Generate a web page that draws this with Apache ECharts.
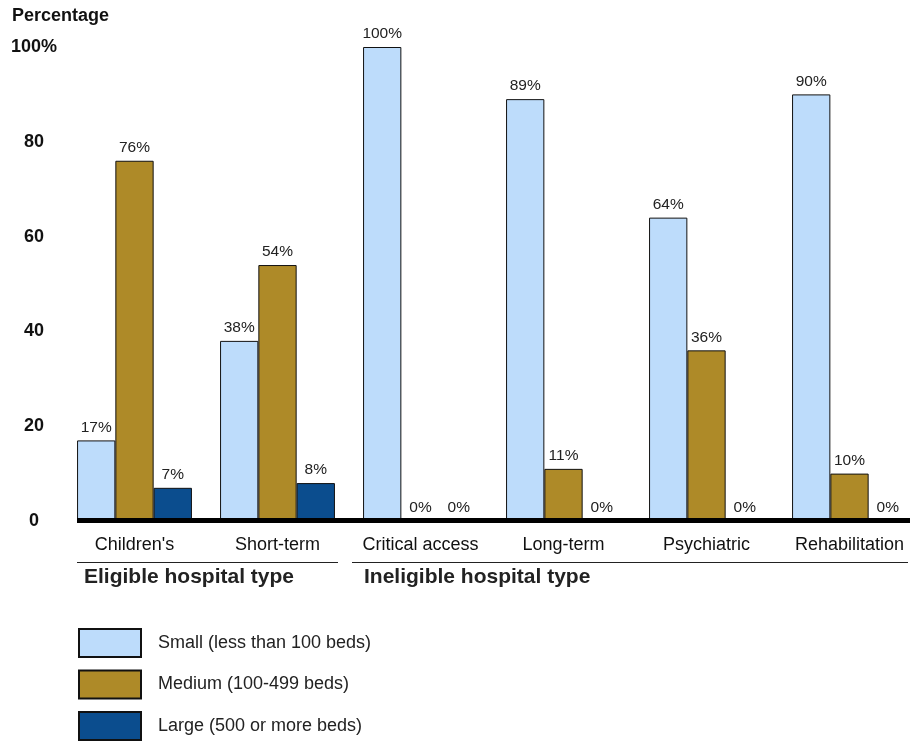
<!DOCTYPE html>
<html>
<head>
<meta charset="utf-8">
<script src="https://cdn.jsdelivr.net/npm/echarts@6/dist/echarts.min.js"></script>
<style>
  html, body { margin: 0; padding: 0; background: #fff; }
  #chart { width: 918px; height: 742px; }
</style>
</head>
<body>
<div id="chart"></div>
<script>
// Hospital types and share of hospitals by bed-size class
const categories = ["Children's", 'Short-term', 'Critical access', 'Long-term', 'Psychiatric', 'Rehabilitation'];
const smallBeds = [17, 38, 100, 89, 64, 90];
const mediumBeds = [76, 54, 0, 11, 36, 10];
const largeBeds = [7, 8, 0, 0, 0, 0];
const seriesNames = ['Small (less than 100 beds)', 'Medium (100-499 beds)', 'Large (500 or more beds)'];
const yTicks = [0, 20, 40, 60, 80, 100];
const groupLabels = ['Eligible hospital type', 'Ineligible hospital type'];

const colors = ['#bddcfb', '#ae8a28', '#0b4d8e'];
const FONT = '"Liberation Sans", Arial, sans-serif';

const chart = echarts.init(document.getElementById('chart'), null, { renderer: 'canvas' });

function barSeries(name, data, color) {
  return {
    name: name,
    type: 'bar',
    data: data,
    barWidth: 38.3,
    barGap: '0%',
    itemStyle: { color: color, borderColor: '#111', borderWidth: 1 },
    label: {
      show: true,
      position: 'top',
      distance: 5,
      formatter: p => p.value + '%',
      fontFamily: FONT,
      fontSize: 15.5,
      color: '#222'
    }
  };
}

chart.setOption({
  animation: false,
  backgroundColor: '#fff',
  textStyle: { fontFamily: FONT },
  grid: { left: 63, width: 858, top: 47, bottom: 221, containLabel: false, outerBoundsMode: 'none' },
  xAxis: {
    type: 'category',
    data: categories,
    axisLine: { show: false },
    axisTick: { show: false },
    axisLabel: { interval: 0, fontFamily: FONT, fontSize: 18, color: '#111', margin: 15 }
  },
  yAxis: {
    type: 'value',
    min: yTicks[0],
    max: yTicks[yTicks.length - 1],
    interval: 20,
    splitLine: { show: false },
    axisLine: { show: false },
    axisTick: { show: false },
    axisLabel: {
      fontFamily: FONT,
      fontSize: 18,
      fontWeight: 'bold',
      color: '#111',
      align: 'center',
      margin: 29,
      formatter: v => (v === 100 ? v + '%' : String(v))
    }
  },
  legend: {
    orient: 'vertical',
    left: 78,
    top: 628,
    height: 120,
    padding: 0,
    itemWidth: 62,
    itemHeight: 28,
    itemGap: 11.5,
    icon: 'rect',
    selectedMode: false,
    textStyle: { fontFamily: FONT, fontSize: 18, color: '#222', padding: [0, 0, 0, 12] },
    data: seriesNames
  },
  graphic: [
    { type: 'text', left: 12, top: 7, style: { text: 'Percentage', font: 'bold 18px ' + FONT, fill: '#111' } },
    // baseline
    { type: 'line', shape: { x1: 77, y1: 520.5, x2: 910, y2: 520.5 }, style: { stroke: '#000', lineWidth: 5 }, z: 10 },
    // group separators
    { type: 'line', shape: { x1: 77, y1: 562.5, x2: 338, y2: 562.5 }, style: { stroke: '#222', lineWidth: 1 } },
    { type: 'line', shape: { x1: 352, y1: 562.5, x2: 908, y2: 562.5 }, style: { stroke: '#222', lineWidth: 1 } },
    { type: 'text', left: 84, top: 567, style: { text: groupLabels[0], font: 'bold 21px ' + FONT, fill: '#222' } },
    { type: 'text', left: 364, top: 567, style: { text: groupLabels[1], font: 'bold 21px ' + FONT, fill: '#222' } }
  ],
  series: [
    barSeries(seriesNames[0], smallBeds, colors[0]),
    barSeries(seriesNames[1], mediumBeds, colors[1]),
    barSeries(seriesNames[2], largeBeds, colors[2])
  ]
});
</script>
</body>
</html>
